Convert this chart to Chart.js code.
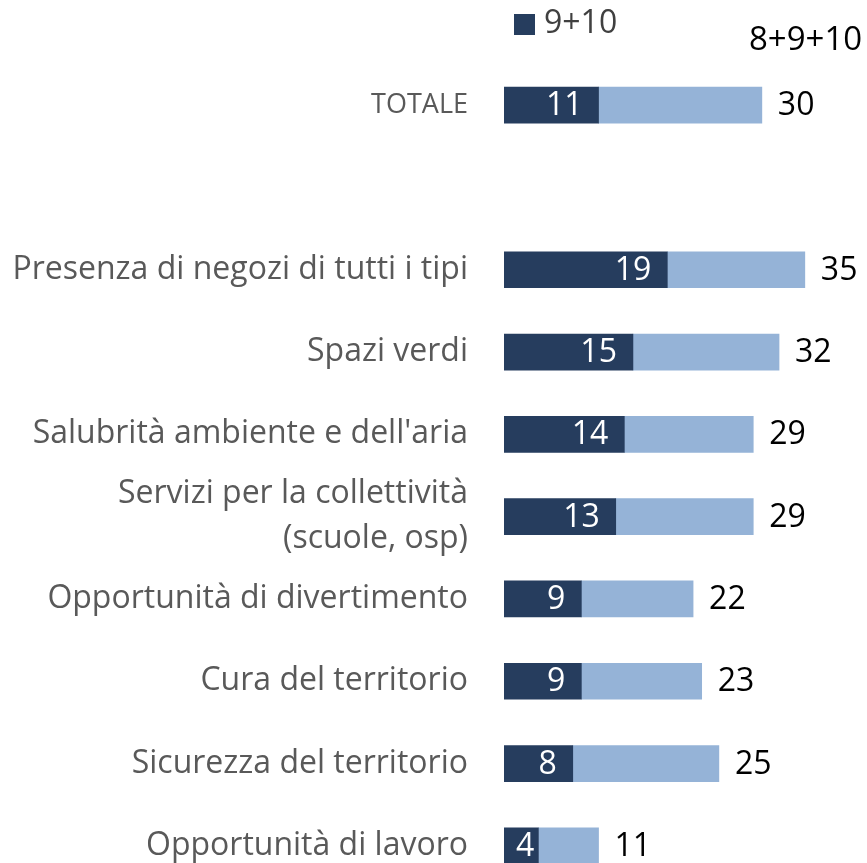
<!DOCTYPE html>
<html>
<head>
<meta charset="utf-8">
<script src="https://cdn.jsdelivr.net/npm/chart.js@4.4.1/dist/chart.umd.min.js"></script>
<style>
  html, body { margin: 0; padding: 0; background: #fff; overflow: hidden; }
  #wrap { width: 867px; height: 1000px; }
</style>
</head>
<body>
<div id="wrap"><canvas id="myChart" width="867" height="1000"></canvas></div>
<script>
// valori
const categorie = [
    'TOTALE',
    '',
    'Presenza di negozi di tutti i tipi',
    'Spazi verdi',
    "Salubrità ambiente e dell'aria",
    ['Servizi per la collettività', '(scuole, osp)'],
    'Opportunità di divertimento',
    'Cura del territorio',
    'Sicurezza del territorio',
    'Opportunità di lavoro'
];
const voti9_10 = [11, null, 19, 15, 14, 13, 9, 9, 8, 4];
const voti8_9_10 = [30, null, 35, 32, 29, 29, 22, 23, 25, 11];

const scuro = '#263d5e';
const chiaro = '#95b3d7';
const FONT = '"Open Sans"';

// parte chiara = 8+9+10 meno 9+10
const resto = voti8_9_10.map((v, i) => v == null ? null : v - voti9_10[i]);

const etichette = {
    id: 'etichette',
    afterDatasetsDraw(chart) {
        const ctx = chart.ctx;
        const m0 = chart.getDatasetMeta(0);
        const m1 = chart.getDatasetMeta(1);
        ctx.save();
        ctx.textBaseline = 'middle';
        ctx.font = '32px ' + FONT;
        m0.data.forEach((bar, i) => {
            if (voti9_10[i] == null) return;
            const txt = String(voti9_10[i]);
            const w = ctx.measureText(txt).width;
            const larg = bar.x - bar.base;
            ctx.fillStyle = '#ffffff';
            if (larg < w + 32) {
                ctx.textAlign = 'center';
                ctx.fillText(txt, (bar.x + bar.base) / 2 + 4, bar.y + 1);
            } else {
                ctx.textAlign = 'right';
                ctx.fillText(txt, bar.x - 16, bar.y + 1);
            }
        });
        m1.data.forEach((bar, i) => {
            if (voti8_9_10[i] == null) return;
            ctx.fillStyle = '#000000';
            ctx.textAlign = 'left';
            ctx.fillText(String(voti8_9_10[i]), bar.x + 16, bar.y + 1);
        });
        // legenda
        ctx.fillStyle = scuro;
        ctx.fillRect(514, 14, 21, 21);
        ctx.fillStyle = '#404040';
        ctx.textAlign = 'left';
        ctx.fillText('9+10', 544, 24);
        ctx.fillStyle = '#000000';
        ctx.font = '33px ' + FONT;
        ctx.fillText('8+9+10', 749, 41);
        ctx.restore();
    }
};

const ctx = document.getElementById('myChart').getContext('2d');
const myChart = new Chart(ctx, {
    type: 'bar',
    data: {
        labels: categorie,
        datasets: [{
            label: '9+10',
            data: voti9_10,
            backgroundColor: scuro,
            barThickness: 36
        }, {
            label: '8+9+10',
            data: resto,
            backgroundColor: chiaro,
            barThickness: 36
        }]
    },
    options: {
        indexAxis: 'y',
        responsive: false,
        animation: false,
        layout: { padding: { top: 64, bottom: 113, left: 0, right: 2 } },
        plugins: {
            legend: { display: false },
            tooltip: { enabled: false }
        },
        scales: {
            x: {
                display: false,
                stacked: true,
                min: 0,
                max: 42
            },
            y: {
                stacked: true,
                grid: { display: false, drawTicks: false },
                border: { display: false },
                afterFit: (s) => { s.width = 504; },
                ticks: {
                    autoSkip: false,
                    padding: 36,
                    color: '#595959',
                    font: (c) => c.index === 0
                        ? { family: 'Open Sans', size: 27, lineHeight: 1.4 }
                        : { family: 'Open Sans', size: 32, lineHeight: 1.4 }
                }
            }
        }
    },
    plugins: [etichette]
});
</script>
</body>
</html>
